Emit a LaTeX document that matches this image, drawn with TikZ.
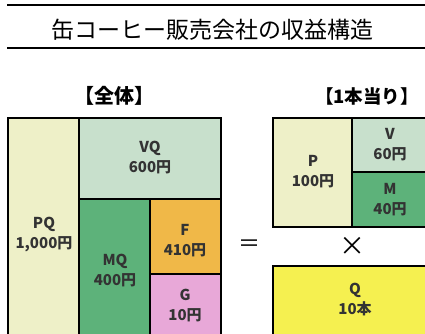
\documentclass[tikz,border=0pt]{standalone}
\usepackage{fontspec}
\setmainfont{Noto Sans CJK JP}
\definecolor{cPQ}{HTML}{EEF0C8}
\definecolor{cVQ}{HTML}{C8E0CC}
\definecolor{cMQ}{HTML}{5DB27A}
\definecolor{cF}{HTML}{F0B848}
\definecolor{cG}{HTML}{E8A8D8}
\definecolor{cQ}{HTML}{F5F050}
\begin{document}
\begin{tikzpicture}[x=1pt,y=-1pt,
  cell/.style={draw=black,line width=1.8pt},
  lbl/.style={font=\fontsize{15}{20}\selectfont\bfseries,align=center,text=black!80},
  head/.style={font=\fontsize{20}{22}\selectfont\bfseries}]
\useasboundingbox (0,0) rectangle (425,333);
\fill[white] (0,0) rectangle (425,333);
% rules
\draw[line width=2.6pt] (7,5) -- (425,5);
\draw[line width=2.6pt] (7,48) -- (425,48);
\node[font=\fontsize{23}{26}\selectfont] (title) at (212,30) {缶コーヒー販売会社の収益構造};
\node[head] (h1) at (114,96) {【全体】};
\node[head,font=\fontsize{18.5}{22}\selectfont\bfseries,anchor=east,inner sep=0pt] (h2) at (419,96) {【1本当り】};
% left block
\filldraw[cell,fill=cPQ] (8,118) rectangle (79,340);
\filldraw[cell,fill=cVQ] (79,118) rectangle (221,199);
\filldraw[cell,fill=cMQ] (79,199) rectangle (150,340);
\filldraw[cell,fill=cF] (150,199) rectangle (221,274);
\filldraw[cell,fill=cG] (150,274) rectangle (221,340);
\node[lbl] (pq) at (44,235) {PQ\\1,000円};
\node[lbl] (vq) at (150,158) {VQ\\600円};
\node[lbl] (mq) at (115,271) {MQ\\400円};
\node[lbl] (f) at (185,241) {F\\410円};
\node[lbl] (g) at (185,306) {G\\10円};
% right block
\filldraw[cell,fill=cPQ] (273,118) rectangle (352,227);
\filldraw[cell,fill=cVQ] (352,118) rectangle (440,172);
\filldraw[cell,fill=cMQ] (352,172) rectangle (440,227);
\filldraw[cell,fill=cQ] (273,266) rectangle (440,345);
\node[lbl] (p) at (313,172) {P\\100円};
\node[lbl] (v) at (390,145) {V\\60円};
\node[lbl] (m) at (390,200) {M\\40円};
\node[lbl] (q) at (355,300) {Q\\10本};
\node[font=\fontsize{22}{24}\selectfont] (eq) at (249,246) {＝};
\node[font=\fontsize{26}{28}\selectfont] (x) at (352,246) {×};
\end{tikzpicture}
\end{document}
